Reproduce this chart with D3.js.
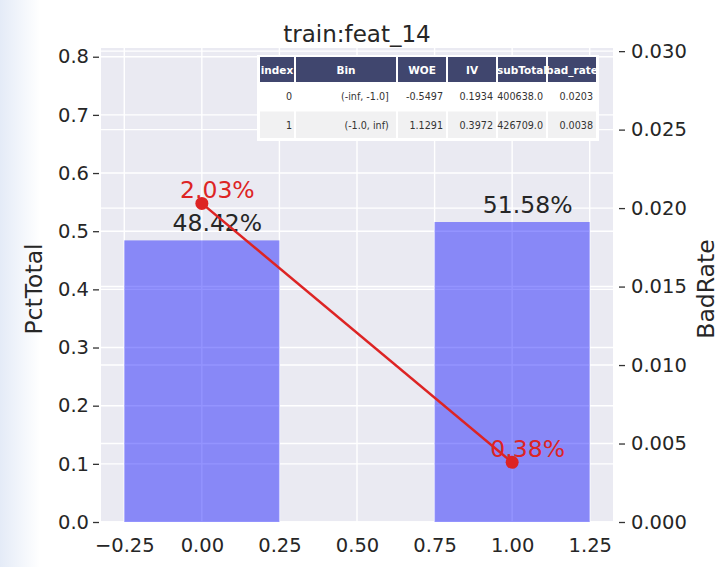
<!DOCTYPE html>
<html><head><meta charset="utf-8">
<script src="https://cdn.jsdelivr.net/npm/d3@7"></script>
<style>html,body{margin:0;padding:0;background:#fff;}svg{display:block;}</style>
</head><body>
<svg id="c" width="722" height="567"></svg>
<script>
const title = "train:feat_14";
const xPos = [0, 1];
const pctTotal = [0.4842, 0.5158];
const badRate = [0.0203, 0.0038];
const pctLabels = ["48.42%", "51.58%"];
const badLabels = ["2.03%", "0.38%"];
const xTicks = [-0.25, 0, 0.25, 0.5, 0.75, 1.0, 1.25];
const yLeftTicks = [0, 0.1, 0.2, 0.3, 0.4, 0.5, 0.6, 0.7, 0.8];
const yRightTicks = [0, 0.005, 0.01, 0.015, 0.02, 0.025, 0.03];
const tableHeader = ["index", "Bin", "WOE", "IV", "subTotal", "bad_rate"];
const tableRows = [
  ["0", "(-inf, -1.0]", "-0.5497", "0.1934", "400638.0", "0.0203"],
  ["1", "(-1.0, inf)", "1.1291", "0.3972", "426709.0", "0.0038"]
];
const colWidths = [36, 102, 50, 50, 50, 50];

const svg = d3.select("#c");
const FONT = "DejaVu Sans, sans-serif";
const L = 101, R = 613, T = 48, B = 522;

const defs = svg.append("defs");
const g1 = defs.append("linearGradient").attr("id","lg").attr("x1","0").attr("x2","1");
g1.append("stop").attr("offset","0").attr("stop-color","#e4ebf7");
g1.append("stop").attr("offset","1").attr("stop-color","#ffffff");
svg.append("rect").attr("x",0).attr("y",0).attr("width",40).attr("height",567).attr("fill","url(#lg)");

const x = d3.scaleLinear().domain([-0.325, 1.325]).range([L, R]);
const yL = d3.scaleLinear().domain([0, 0.815]).range([B, T]);
const yR = d3.scaleLinear().domain([0, 0.0302]).range([B, T]);

svg.append("rect").attr("x",L).attr("y",T).attr("width",R-L).attr("height",B-T).attr("fill","#eaeaf2");

const grid = svg.append("g").attr("stroke","#ffffff").attr("stroke-width",1.4);
grid.selectAll(".gx").data(xTicks).join("line")
  .attr("x1",d=>x(d)).attr("x2",d=>x(d)).attr("y1",T).attr("y2",B);
grid.selectAll(".gyl").data(yLeftTicks).join("line").attr("class","gyl")
  .attr("x1",L).attr("x2",R).attr("y1",d=>yL(d)).attr("y2",d=>yL(d));
grid.selectAll(".gyr").data(yRightTicks).join("line").attr("class","gyr")
  .attr("x1",L).attr("x2",R).attr("y1",d=>yR(d)).attr("y2",d=>yR(d));

svg.append("g").selectAll("rect").data(xPos).join("rect")
  .attr("x",d=>x(d-0.25)).attr("width",d=>x(d+0.25)-x(d-0.25))
  .attr("y",(d,i)=>yL(pctTotal[i])).attr("height",(d,i)=>B-yL(pctTotal[i]))
  .attr("fill","#0000ff").attr("fill-opacity",0.42);

const axL = svg.append("g").attr("transform",`translate(${L},0)`)
  .call(d3.axisLeft(yL).tickValues(yLeftTicks).tickFormat(d3.format(".1f")).tickSize(6).tickPadding(5));
const axR = svg.append("g").attr("transform",`translate(${R},0)`)
  .call(d3.axisRight(yR).tickValues(yRightTicks).tickFormat(d3.format(".3f")).tickSize(6).tickPadding(5));
const axB = svg.append("g").attr("transform",`translate(0,${B})`)
  .call(d3.axisBottom(x).tickValues(xTicks).tickFormat(d=>d3.format(".2f")(d).replace("-","\u2212")).tickSize(0).tickPadding(12));
[axL, axR, axB].forEach(a=>{
  a.select(".domain").remove();
  a.selectAll("text").attr("font-family",FONT).attr("font-size","19.5px").attr("fill","#262626");
  a.selectAll("line").attr("stroke","#333").attr("stroke-width",1.3);
});
axL.selectAll("line").attr("x1",-2).attr("x2",-8);
axL.selectAll("text").attr("x",-12);
axR.selectAll("line").attr("x1",6).attr("x2",12);
axR.selectAll("text").attr("x",18);
axB.selectAll("text").attr("dy","0.9em");

svg.append("g").selectAll("text").data(xPos).join("text")
  .attr("x",d=>x(d+0.05)).attr("y",(d,i)=>yL(pctTotal[i])-9)
  .attr("text-anchor","middle").attr("font-family",FONT).attr("font-size","23.5px").attr("fill","#262626")
  .text((d,i)=>pctLabels[i]);

const red = "#dd2424";
svg.append("path").datum(xPos)
  .attr("d", d3.line().x(d=>x(d)).y((d,i)=>yR(badRate[i])))
  .attr("fill","none").attr("stroke",red).attr("stroke-width",2.5);
svg.append("g").selectAll("circle").data(xPos).join("circle")
  .attr("cx",d=>x(d)).attr("cy",(d,i)=>yR(badRate[i])).attr("r",6.5).attr("fill",red);
svg.append("g").selectAll("text").data(xPos).join("text")
  .attr("x",d=>x(d+0.05)).attr("y",(d,i)=>yR(badRate[i])-5)
  .attr("text-anchor","middle").attr("font-family",FONT).attr("font-size","23.5px").attr("fill",red)
  .text((d,i)=>badLabels[i]);

svg.append("text").attr("x",(L+R)/2).attr("y",42).attr("text-anchor","middle")
  .attr("font-family",FONT).attr("font-size","23px").attr("fill","#262626").text(title);
svg.append("text").attr("transform",`translate(42,${(T+B)/2+4}) rotate(-90)`).attr("text-anchor","middle")
  .attr("font-family",FONT).attr("font-size","23.5px").attr("fill","#262626").text("PctTotal");
svg.append("text").attr("transform",`translate(714,${(T+B)/2+4}) rotate(-90)`).attr("text-anchor","middle")
  .attr("font-family",FONT).attr("font-size","23.5px").attr("fill","#262626").text("BadRate");

const tx0 = 259, ty0 = 57, hH = 25, rH = 28.5;
const colX = [];
colWidths.reduce((acc,w)=>{colX.push(acc); return acc+w;}, tx0);
const totalW = d3.sum(colWidths);
const tbl = svg.append("g");
tbl.append("rect").attr("x",tx0-2).attr("y",ty0-2).attr("width",totalW+4).attr("height",hH+2*rH+4).attr("fill","#fff");
tbl.selectAll(".h").data(tableHeader).join("rect")
  .attr("x",(d,i)=>colX[i]+1).attr("y",ty0).attr("width",(d,i)=>colWidths[i]-2).attr("height",hH)
  .attr("fill","#40466e");
tbl.selectAll(".ht").data(tableHeader).join("text")
  .attr("x",(d,i)=>colX[i]+colWidths[i]/2).attr("y",ty0+hH/2+4).attr("text-anchor","middle")
  .attr("font-family",FONT).attr("font-weight","bold").attr("font-size","10.5px").attr("fill","#fff").text(d=>d);
tableRows.forEach((row,r)=>{
  const yy = ty0+hH+r*rH;
  tbl.selectAll(".c"+r).data(row).join("rect")
    .attr("x",(d,i)=>colX[i]+1).attr("y",yy+1).attr("width",(d,i)=>colWidths[i]-2).attr("height",rH-2)
    .attr("fill", r%2===0 ? "#ffffff" : "#f1f1f2");
  tbl.selectAll(".t"+r).data(row).join("text")
    .attr("x",(d,i)=>colX[i]+colWidths[i]*0.92).attr("y",yy+rH/2+4).attr("text-anchor","end")
    .attr("font-family",FONT).attr("font-size","9.6px").attr("fill","#333").text(d=>d);
});
</script>
</body></html>
